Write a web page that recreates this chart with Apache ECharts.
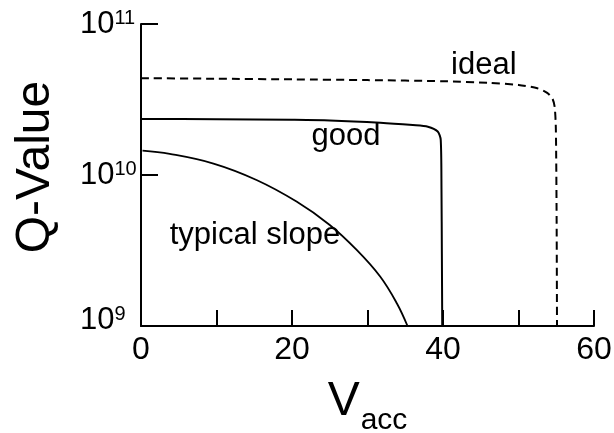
<!DOCTYPE html>
<html>
<head>
<meta charset="utf-8">
<script src="https://cdn.jsdelivr.net/npm/echarts@6/dist/echarts.min.js"></script>
<style>
  html, body { margin: 0; padding: 0; background: #fff; }
  #chart { width: 614px; height: 433px; }
</style>
</head>
<body>
<div id="chart"></div>
<script>
// Accelerating gradient (MV/m) vs. quality factor of the cavity
const idealV = [0, 10, 20, 30, 40, 46, 50, 52.5, 53.8, 54.5, 54.8, 54.95, 55.05, 55.1];
const idealQ = [4.38e10, 4.34e10, 4.3e10, 4.25e10, 4.18e10, 4.08e10, 3.95e10, 3.75e10, 3.5e10, 3.2e10, 2.8e10, 2.0e10, 5e9, 1e9];

const goodV = [0, 10, 20, 25, 31.7, 36, 38, 39.3, 39.7, 39.8, 39.85, 39.9];
const goodQ = [2.35e10, 2.34e10, 2.32e10, 2.3e10, 2.22e10, 2.14e10, 2.09e10, 1.94e10, 1.71e10, 8e9, 3e9, 1e9];

const typicalV = [0.2, 3.8, 9.6, 15.3, 20.6, 25.0, 28.6, 31.7, 33.9, 35.3];
const typicalQ = [1.45e10, 1.38e10, 1.19e10, 9.27e9, 6.67e9, 4.67e9, 3.18e9, 2.12e9, 1.41e9, 1.0e9];

const curveLabels = ['ideal', 'good', 'typical slope'];
const labelV = [45.4, 27.15, 15.1];
const labelQ = [5.35e10, 1.79e10, 3.95e9];

const xTicks = [0, 20, 40, 60];
const yTicks = [1e9, 1e10, 1e11];

const zip = (xs, ys) => xs.map((x, i) => [x, ys[i]]);
const FONT = '"Liberation Sans", Arial, sans-serif';

const chart = echarts.init(document.getElementById('chart'), null, { renderer: 'canvas' });

chart.setOption({
  animation: false,
  backgroundColor: '#fff',
  grid: { left: 141, right: 20, top: 24, bottom: 107, containLabel: false, outerBoundsMode: 'none' },
  xAxis: {
    type: 'value',
    min: 0, max: 60, interval: 10,
    name: '{v|V}{s|acc}',
    nameLocation: 'middle',
    nameGap: 52,
    nameTextStyle: {
      fontFamily: FONT,
      color: '#000',
      rich: {
        v: { fontSize: 48, lineHeight: 48, fontFamily: FONT, color: '#000', verticalAlign: 'top' },
        s: { fontSize: 30, lineHeight: 58, fontFamily: FONT, color: '#000', verticalAlign: 'bottom', padding: [0, 0, 0, 1] }
      }
    },
    axisLine: { show: true, lineStyle: { color: '#000', width: 2 } },
    axisTick: { show: true, inside: true, length: 16, lineStyle: { color: '#000', width: 2 } },
    axisLabel: {
      margin: 8,
      fontSize: 32, fontFamily: FONT, color: '#000',
      formatter: v => (xTicks.indexOf(v) >= 0 ? String(v) : '')
    },
    splitLine: { show: false }
  },
  yAxis: {
    type: 'log',
    logBase: 10,
    min: 1e9, max: 1e11,
    name: 'Q-Value',
    nameLocation: 'middle',
    nameRotate: 90,
    nameGap: 81,
    nameTextStyle: { fontSize: 48, fontFamily: FONT, color: '#000', padding: [0, 0, 0, 16] },
    axisLine: { show: true, lineStyle: { color: '#000', width: 2 } },
    axisTick: { show: true, inside: true, length: 17, lineStyle: { color: '#000', width: 2 } },
    axisLabel: {
      margin: 61,
      align: 'left',
      fontFamily: FONT, color: '#000',
      formatter: v => {
        if (!yTicks.some(t => Math.abs(t - v) / t < 1e-6)) return '';
        const n = Math.round(Math.log10(v));
        // the bottom label sits a little above its tick
        return n === 9 ? '{bl|10}{s|' + n + '}' : '{b|10}{s|' + n + '}';
      },
      rich: {
        b: { fontSize: 31, lineHeight: 31, fontFamily: FONT, color: '#000', verticalAlign: 'top' },
        bl: { fontSize: 31, lineHeight: 43, fontFamily: FONT, color: '#000', verticalAlign: 'top', height: 31 },
        s: { fontSize: 20, lineHeight: 19, fontFamily: FONT, color: '#000', verticalAlign: 'top' }
      }
    },
    splitLine: { show: false }
  },
  series: [
    {
      name: 'ideal',
      type: 'line',
      data: zip(idealV, idealQ),
      smooth: 0.25,
      showSymbol: false,
      lineStyle: { color: '#000', width: 2, type: [8, 5] },
      z: 3
    },
    {
      name: 'good',
      type: 'line',
      data: zip(goodV, goodQ),
      smooth: 0.25,
      showSymbol: false,
      lineStyle: { color: '#000', width: 2 },
      z: 3
    },
    {
      name: 'typical slope',
      type: 'line',
      data: zip(typicalV, typicalQ),
      smooth: 0.4,
      showSymbol: false,
      lineStyle: { color: '#000', width: 1.8 },
      z: 3
    },
    {
      name: 'labels',
      type: 'scatter',
      symbolSize: 0,
      itemStyle: { opacity: 1, color: '#000' },
      data: curveLabels.map((t, i) => ({ name: t, value: [labelV[i], labelQ[i]] })),
      label: {
        show: true,
        position: 'inside',
        formatter: p => p.name,
        fontSize: 31, fontFamily: FONT, color: '#000',
        textBorderWidth: 0
      },
      silent: true,
      z: 4
    }
  ]
});
</script>
</body>
</html>
